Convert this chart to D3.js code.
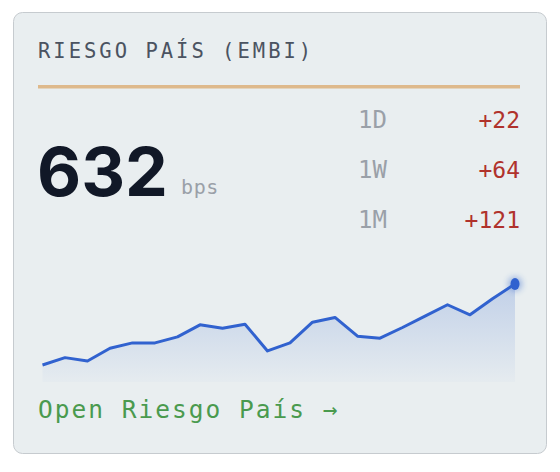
<!DOCTYPE html>
<html><head><meta charset="utf-8">
<script src="https://cdn.jsdelivr.net/npm/d3@7"></script>
<style>body{margin:0;background:#fff}</style></head>
<body><svg id="c" width="560" height="472"></svg>
<script>
const title = "RIESGO PAÍS (EMBI)";
const current = 632;
const unit = "bps";
const periods = ["1D","1W","1M"];
const changes = ["+22","+64","+121"];
const series = [511,522,517,536,544,544,553,571,566,572,532,544,575,582,554,551,567,584,601,586,610,632];
const linkText = "Open Riesgo País →";

const svg = d3.select("#c");
const mono = "'DejaVu Sans Mono','Liberation Mono',monospace";
const defs = svg.append("defs");
const g = defs.append("linearGradient").attr("id","ag").attr("x1",0).attr("y1",0).attr("x2",0).attr("y2",1);
g.append("stop").attr("offset","0%").attr("stop-color","#3366cc").attr("stop-opacity",0.22);
g.append("stop").attr("offset","100%").attr("stop-color","#3366cc").attr("stop-opacity",0.02);
const f = defs.append("filter").attr("id","glow").attr("x","-2").attr("y","-2").attr("width","5").attr("height","5");
f.append("feGaussianBlur").attr("stdDeviation",3);

svg.append("rect").attr("x",13.5).attr("y",12.5).attr("width",533).attr("height",441).attr("rx",9)
  .attr("fill","#e9eef0").attr("stroke","#c6cbcf");
svg.append("text").attr("x",38).attr("y",58).attr("font-family",mono).attr("font-size",20.5)
  .attr("letter-spacing",3).attr("fill","#4b5361").text(title);
svg.append("rect").attr("x",38).attr("y",85).attr("width",482).attr("height",3.5).attr("fill","#deb98c");
svg.append("text").attr("x",37).attr("y",196).attr("font-family","Inter, 'Noto Sans', sans-serif")
  .attr("font-weight",700).attr("font-size",68).attr("fill","#111827").text(current);
svg.append("text").attr("x",181).attr("y",194).attr("font-family",mono).attr("font-size",20)
  .attr("letter-spacing",0.6).attr("fill","#9aa0a8").text(unit);
const by = [128,178,228];
periods.forEach((p,i)=>{
  svg.append("text").attr("x",358).attr("y",by[i]).attr("font-family",mono).attr("font-size",24)
    .attr("fill","#9aa0a8").text(p);
  svg.append("text").attr("x",520).attr("y",by[i]).attr("text-anchor","end").attr("font-family",mono)
    .attr("font-size",23).attr("fill","#b0322c").text(changes[i]);
});

const x = d3.scaleLinear().domain([0,series.length-1]).range([42.5,515]);
const y = d3.scaleLinear().domain([511,632]).range([365,284]);
svg.append("path").datum(series).attr("fill","url(#ag)")
  .attr("d",d3.area().x((d,i)=>x(i)).y0(382).y1(d=>y(d)));
svg.append("path").datum(series).attr("fill","none").attr("stroke","#3162cf").attr("stroke-width",3)
  .attr("stroke-linejoin","round")
  .attr("d",d3.line().x((d,i)=>x(i)).y(d=>y(d)));
const li = series.length-1;
svg.append("circle").attr("cx",x(li)).attr("cy",y(series[li])).attr("r",7).attr("fill","#3366cc")
  .attr("opacity",0.45).attr("filter","url(#glow)");
svg.append("ellipse").attr("cx",x(li)).attr("cy",y(series[li])).attr("rx",4.5).attr("ry",6).attr("fill","#3162cf");

svg.append("text").attr("x",38).attr("y",418).attr("font-family",mono).attr("font-size",24.5)
  .attr("letter-spacing",2).attr("fill","#4a9a4e").text(linkText);
</script></body></html>
